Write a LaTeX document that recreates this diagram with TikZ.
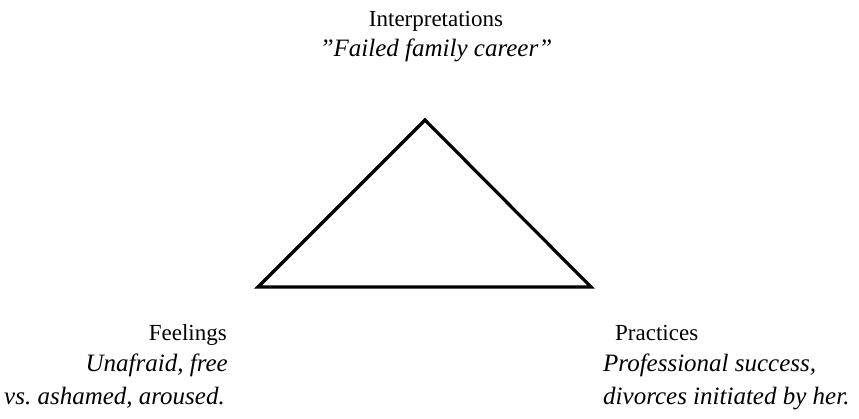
\documentclass[tikz,border=0pt]{standalone}
\usepackage{fontspec}
\setmainfont{Liberation Serif}

\tikzset{
  lbl/.style={inner sep=0pt, font=\fontsize{23}{30}\selectfont},
  ital/.style={lbl, font=\fontsize{25}{30}\selectfont\itshape},
  edge/.style={line width=3.2pt, line join=miter}
}

\begin{document}
\begin{tikzpicture}[x=1pt, y=-1pt]
    \useasboundingbox (0,0) rectangle (859,418);

    % Triangle corners
    \coordinate (apex) at (425,120);
    \coordinate (left) at (258,287);
    \coordinate (right) at (591,287);
    \draw[edge] (apex) -- (left) -- (right) -- cycle;

    % Interpretations
    \node[lbl, anchor=base] (interp) at (436,26) {Interpretations};
    \node[ital, anchor=base] (interpq) at (436,56) {''Failed family career''};

    % Feelings
    \node[lbl, anchor=base east] (feel) at (227,340) {Feelings};
    \node[ital, anchor=base east] (feela) at (228,371) {Unafraid, free};
    \node[ital, anchor=base east] (feelb) at (225,404) {vs.\ ashamed, aroused.};

    % Practices
    \node[lbl, anchor=base west] (prac) at (615,340) {Practices};
    \node[ital, anchor=base west] (praca) at (603,371) {Professional success,};
    \node[ital, anchor=base west] (pracb) at (603,404) {divorces initiated by her.};
\end{tikzpicture}
\end{document}
